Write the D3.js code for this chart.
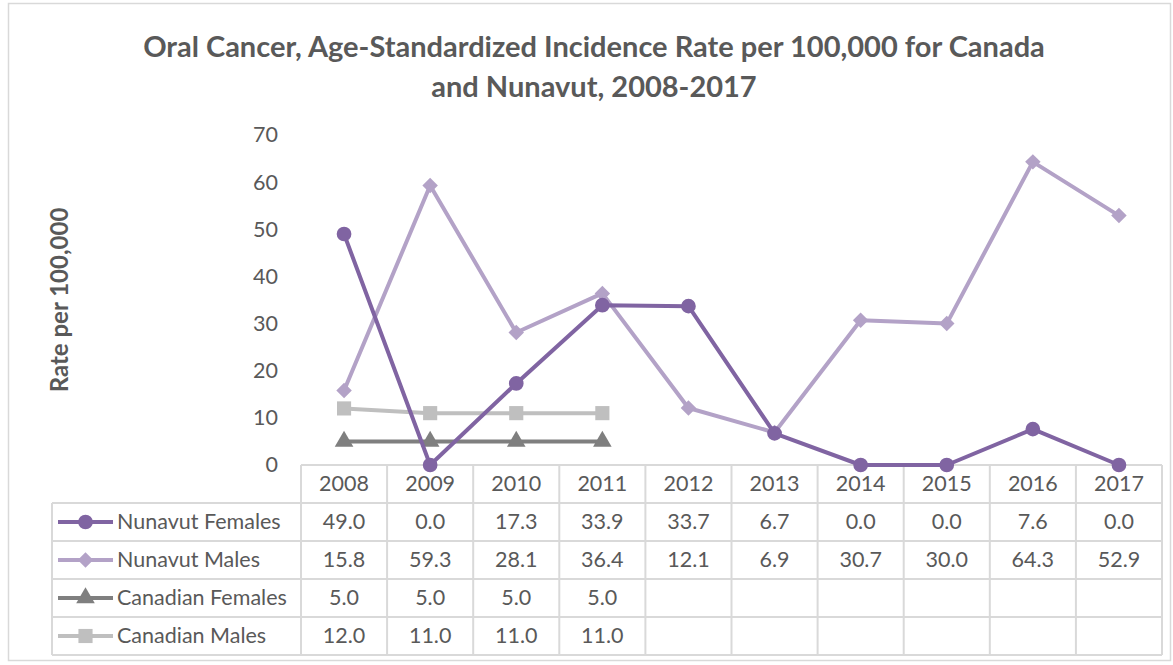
<!DOCTYPE html>
<html>
<head>
<meta charset="utf-8">
<script src="https://cdn.jsdelivr.net/npm/d3@7"></script>
<style>
  body { margin: 0; background: #fff; }
  svg { font-family: Lato, "Open Sans", sans-serif; }
</style>
</head>
<body>
<div id="chart"></div>
<script>
// data
var years = ["2008","2009","2010","2011","2012","2013","2014","2015","2016","2017"];
var nunavutFemales = [49.0, 0.0, 17.3, 33.9, 33.7, 6.7, 0.0, 0.0, 7.6, 0.0];
var nunavutMales = [15.8, 59.3, 28.1, 36.4, 12.1, 6.9, 30.7, 30.0, 64.3, 52.9];
var canadianFemales = [5.0, 5.0, 5.0, 5.0, null, null, null, null, null, null];
var canadianMales = [12.0, 11.0, 11.0, 11.0, null, null, null, null, null, null];
var yTicks = [0, 10, 20, 30, 40, 50, 60, 70];

var series = [
  {name: "Nunavut Females", values: nunavutFemales, color: "#8064A2", marker: d3.symbolCircle, size: 170, rot: 0},
  {name: "Nunavut Males", values: nunavutMales, color: "#B3A2C7", marker: d3.symbolSquare, size: 120, rot: 45},
  {name: "Canadian Females", values: canadianFemales, color: "#7F7F7F", marker: d3.symbolTriangle, size: 150, rot: 0},
  {name: "Canadian Males", values: canadianMales, color: "#BFBFBF", marker: d3.symbolSquare, size: 200, rot: 0}
];

var W = 1173, H = 665;
var textColor = "#595959";
var gridColor = "#D9D9D9";
var fontSize = "21.5px";

var svg = d3.select("#chart").append("svg")
  .attr("width", W)
  .attr("height", H);

// outer chart border
svg.append("rect")
  .attr("x", 8.5).attr("y", 3.5)
  .attr("width", 1162).attr("height", 657)
  .attr("fill", "#fff")
  .attr("stroke", "#D9D9D9")
  .attr("stroke-width", 1.5);

var xScale = d3.scaleBand()
  .domain(years)
  .range([301, 1162]);

var yScale = d3.scaleLinear()
  .domain([0, 70])
  .range([465, 135]);

// title
var title = svg.append("text")
  .attr("text-anchor", "middle")
  .attr("fill", textColor)
  .style("font-size", "29px")
  .style("font-weight", "bold");
title.append("tspan").attr("x", 594).attr("y", 57)
  .text("Oral Cancer, Age-Standardized Incidence Rate per 100,000 for Canada");
title.append("tspan").attr("x", 594).attr("y", 97)
  .text("and Nunavut, 2008-2017");

// y axis title
svg.append("text")
  .attr("transform", "translate(68,300) rotate(-90)")
  .attr("text-anchor", "middle")
  .attr("fill", textColor)
  .style("font-size", "24px")
  .style("font-weight", "bold")
  .text("Rate per 100,000");

// y axis
var yAxis = svg.append("g")
  .attr("transform", "translate(278,0)")
  .call(d3.axisLeft(yScale).tickValues(yTicks).tickSize(0).tickPadding(0));
yAxis.select(".domain").remove();
yAxis.selectAll("text")
  .attr("fill", textColor)
  .style("font-size", fontSize)
  .style("font-family", "Lato, 'Open Sans', sans-serif");

// data table
var rowH = 38;
var tableTop = yScale(0);
var legendLeft = 52;
var rowsTop = tableTop + rowH;
var tableBottom = rowsTop + rowH * series.length;
var grid = svg.append("g")
  .attr("stroke", gridColor)
  .attr("stroke-width", 2)
  .attr("fill", "none");

// horizontal lines
grid.append("line")
  .attr("x1", xScale.range()[0]).attr("x2", xScale.range()[1])
  .attr("y1", tableTop).attr("y2", tableTop);
d3.range(series.length + 1).forEach(function(i){
  grid.append("line")
    .attr("x1", legendLeft).attr("x2", xScale.range()[1])
    .attr("y1", rowsTop + i * rowH).attr("y2", rowsTop + i * rowH);
});
// vertical lines
grid.append("line")
  .attr("x1", legendLeft).attr("x2", legendLeft)
  .attr("y1", rowsTop).attr("y2", tableBottom);
years.forEach(function(yr){
  var x = xScale(yr);
  grid.append("line").attr("x1", x).attr("x2", x).attr("y1", tableTop).attr("y2", tableBottom);
});
grid.append("line")
  .attr("x1", xScale.range()[1]).attr("x2", xScale.range()[1])
  .attr("y1", tableTop).attr("y2", tableBottom);

// header years
svg.append("g").selectAll("text")
  .data(years).enter().append("text")
  .attr("x", function(d){ return xScale(d) + xScale.bandwidth() / 2; })
  .attr("y", tableTop + rowH / 2 + 7)
  .attr("text-anchor", "middle")
  .attr("fill", textColor)
  .style("font-size", fontSize)
  .text(function(d){ return d; });

function markerTransform(s, x, y){
  return "translate(" + x + "," + y + ")" + (s.rot ? " rotate(" + s.rot + ")" : "");
}

// table rows
series.forEach(function(s, i){
  var cy = rowsTop + i * rowH + rowH / 2;
  var row = svg.append("g");
  row.append("line")
    .attr("x1", 58).attr("x2", 113)
    .attr("y1", cy).attr("y2", cy)
    .attr("stroke", s.color)
    .attr("stroke-width", 4);
  row.append("path")
    .attr("d", d3.symbol().type(s.marker).size(s.size))
    .attr("transform", markerTransform(s, 85.5, cy))
    .attr("fill", s.color);
  row.append("text")
    .attr("x", 117).attr("y", cy + 7)
    .attr("fill", textColor)
    .style("font-size", fontSize)
    .text(s.name);
  row.selectAll("text.val")
    .data(s.values).enter().append("text")
    .attr("class", "val")
    .attr("x", function(d, j){ return xScale(years[j]) + xScale.bandwidth() / 2; })
    .attr("y", cy + 7)
    .attr("text-anchor", "middle")
    .attr("fill", textColor)
    .style("font-size", fontSize)
    .text(function(d){ return d == null ? "" : d.toFixed(1); });
});

// lines and markers, drawn back-to-front (last series first)
var lineGen = d3.line()
  .defined(function(d){ return d.v != null; })
  .x(function(d){ return xScale(d.year) + xScale.bandwidth() / 2; })
  .y(function(d){ return yScale(d.v); });

series.slice().reverse().forEach(function(s){
  var pts = s.values.map(function(v, j){ return {year: years[j], v: v}; });
  svg.append("path")
    .datum(pts)
    .attr("d", lineGen)
    .attr("fill", "none")
    .attr("stroke", s.color)
    .attr("stroke-width", 4)
    .attr("stroke-linejoin", "round");
  svg.append("g").selectAll("path")
    .data(pts.filter(function(d){ return d.v != null; }))
    .enter().append("path")
    .attr("d", d3.symbol().type(s.marker).size(s.size))
    .attr("transform", function(d){
      return markerTransform(s, xScale(d.year) + xScale.bandwidth() / 2, yScale(d.v));
    })
    .attr("fill", s.color);
});
</script>
</body>
</html>
